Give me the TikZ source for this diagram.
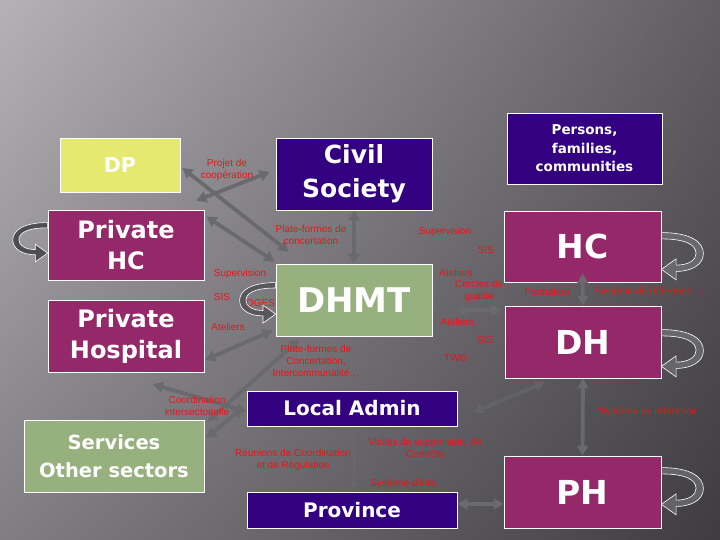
\documentclass[tikz,border=0pt]{standalone}
\usepackage{fontspec}
\setmainfont{Liberation Sans}
\newfontfamily\boxfont{DejaVu Sans}
\usetikzlibrary{calc,arrows.meta,shadings}

\definecolor{bgA}{RGB}{180,178,183}
\definecolor{bgB}{RGB}{96,94,99}
\definecolor{bgC}{RGB}{128,126,131}
\definecolor{bgD}{RGB}{62,60,65}
\definecolor{dpyellow}{RGB}{229,233,112}
\definecolor{hcmagenta}{RGB}{148,40,104}
\definecolor{adminindigo}{RGB}{50,0,128}
\definecolor{sectorgreen}{RGB}{150,176,126}
\definecolor{linkgray}{RGB}{105,105,110}
\definecolor{labelred}{RGB}{235,20,25}

\pgfdeclarelayer{backdrop}
\pgfdeclarelayer{links}
\pgfsetlayers{backdrop,links,main}

\tikzset{
	every box/.style={draw=white, line width=0.8pt, inner sep=0pt, align=center,
		text=white, font=\boxfont\bfseries},
	every tag/.style={text=labelred, inner sep=0pt, align=center,
		font=\fontsize{10}{12}\selectfont},
	link/.style={draw=linkgray, line width=3.8pt,
		{Triangle[length=10pt,width=11pt]}-{Triangle[length=10pt,width=11pt]}},
	thin link/.style={draw=linkgray, opacity=.6, line width=2pt,
		-{Triangle[length=7pt,width=8pt]}},
	loop back/.pic={
		\filldraw[draw=white, line width=0.6pt] (0,0) .. controls (-28,0) and (-40,9) .. (-40,20)
			.. controls (-40,31) and (-28,37) .. (-14,37) -- (-14,45) -- (0,35) -- (-14,25)
			-- (-14,31) .. controls (-26,31) and (-33,26) .. (-33,20)
			.. controls (-33,12) and (-24,6) .. (0,6) -- cycle;
	}
}

\begin{document}
\begin{tikzpicture}[x=1pt,y=-1pt]
	\useasboundingbox (0,0) rectangle (720,540);
	\begin{pgfonlayer}{backdrop}
		\shade[upper left=bgA, upper right=bgB, lower left=bgC, lower right=bgD]
			(0,0) rectangle (720,540);
	\end{pgfonlayer}

	% boxes
	\node[every box, fill=dpyellow, minimum width=120pt, minimum height=54pt,
		font=\boxfont\bfseries\fontsize{20.5}{24}\selectfont] (dp) at (120,165) {DP};
	\node[every box, fill=hcmagenta, minimum width=156pt, minimum height=70pt,
		font=\boxfont\bfseries\fontsize{24}{31}\selectfont] (private-hc) at (126,245) {Private\\HC};
	\node[every box, fill=hcmagenta, minimum width=156pt, minimum height=72pt,
		font=\boxfont\bfseries\fontsize{24}{31}\selectfont] (private-hospital) at (126,336) {Private\\Hospital};
	\node[every box, fill=sectorgreen, minimum width=180pt, minimum height=72pt,
		font=\boxfont\bfseries\fontsize{19.5}{28}\selectfont] (services) at (114,456) {Services\\Other sectors};
	\node[every box, fill=adminindigo, minimum width=156pt, minimum height=72pt,
		font=\boxfont\bfseries\fontsize{25}{34}\selectfont] (civil-society) at (354,174) {Civil\\Society};
	\node[every box, fill=adminindigo, minimum width=155pt, minimum height=71pt,
		font=\boxfont\bfseries\fontsize{13.5}{18.5}\selectfont] (persons) at (584.5,148.5) {Persons,\\families,\\communities};
	\node[every box, fill=sectorgreen, minimum width=156pt, minimum height=72pt,
		font=\boxfont\bfseries\fontsize{34}{40}\selectfont] (dhmt) at (354,300) {DHMT};
	\node[every box, fill=hcmagenta, minimum width=157pt, minimum height=71pt,
		font=\boxfont\bfseries\fontsize{33}{40}\selectfont] (hc) at (582.5,246.5) {HC};
	\node[every box, fill=hcmagenta, minimum width=156pt, minimum height=72pt,
		font=\boxfont\bfseries\fontsize{33}{40}\selectfont] (dh) at (583,342) {DH};
	\node[every box, fill=hcmagenta, minimum width=157pt, minimum height=72pt,
		font=\boxfont\bfseries\fontsize{33}{40}\selectfont] (ph) at (582.5,492) {PH};
	\node[every box, fill=adminindigo, minimum width=210pt, minimum height=35pt,
		font=\boxfont\bfseries\fontsize{20}{24}\selectfont] (local-admin) at (352,408.5) {Local Admin};
	\node[every box, fill=adminindigo, minimum width=210pt, minimum height=36pt,
		font=\boxfont\bfseries\fontsize{20}{24}\selectfont] (province) at (352,510) {Province};

	% connectors
	\begin{pgfonlayer}{links}
	\draw[link] ($(dp.east)+(2,3)$) -- ($(dhmt.north west)+(13,-12)$);
	\draw[link] ($(civil-society.west)+(-6,-2)$) -- ($(private-hc.north east)+(-8,-9)$);
	\draw[link] ($(private-hc.north east)+(2,7)$) -- ($(dhmt.north west)+(-1,-2)$);
	\draw[link] (civil-society.south) -- (dhmt.north);
	\draw[link] ($(dhmt.south west)+(-3,-6)$) -- ($(private-hospital.east)+(1,24)$);
	\draw[link] ($(services.north east)+(3,2)$) -- ($(dhmt.south west)+(24,3)$);
	\draw[link] ($(services.east)+(2,-18)$) -- ($(local-admin.west)+(-4,-1)$);
	\draw[link] ($(private-hospital.south)+(27,12)$) -- ($(local-admin.west)+(0,3)$);
	\draw[link] ($(dhmt.east)+(23,10)$) -- ($(dh.west)+(-3,-32)$);
	\draw[link] (dh.south) -- (ph.north);
	\draw[link, opacity=.5] ($(local-admin.east)+(16,3.5)$) -- ($(dh.south)+(-38,4)$);
	\draw[thin link] ($(local-admin.south)+(2,0)$) -- ($(province.north)+(2,-2)$);
	\draw[link] ($(province.east)+(0,-6)$) -- ($(ph.west)+(0,12)$);
	\end{pgfonlayer}
	\draw[link] ($(hc.south)+(0,-9)$) -- (dh.north);

	% labels
	\foreach \x/\y/\t [count=\i] in {
		227/170/{Projet de\\coopération},
		311/235/{Plate-formes de\\concertation},
		240/274/Supervision, 222/297/SIS, 257/303/COGES, 228/327/Ateliers,
		316/361/{Plate-formes de\\Concertation,\\Intercommunalité…},
		445/232/Supervision, 486/250/SIS, 456/273/Ateliers,
		479/291/{Cercles de\\qualite},
		547/292/Formation, 643/292/{Système de référence},
		457/322/Ateliers, 485/340/SIS, 456/358/TWG,
		648/412/{Système de référence},
		197/406/{Coordination\\intersectorielle},
		293/460/{Réunions de Coordination\\et de Régulation},
		425/448/{Visites de supervision, de\\Contrôle},
		403/484/{Système d'info}}
		\node[every tag] (tag-\i) at (\x,\y) {\t};

	% self loops
	\pic[fill={rgb,255:red,78;green,78;blue,82}, scale=.87] at ($(private-hc.north west)+(0,13)$) {loop back};
	\pic[fill={rgb,255:red,88;green,88;blue,92}, scale=.9] at ($(dhmt.north west)+(0,19)$) {loop back};
	\foreach \b/\d in {hc/22, dh/24, ph/12}
		\pic[fill={rgb,255:red,120;green,120;blue,125}, fill opacity=.6, xscale=-1.05, yscale=1.05]
			at ($(\b.north east)+(0,\d)$) {loop back};
\end{tikzpicture}
\end{document}
